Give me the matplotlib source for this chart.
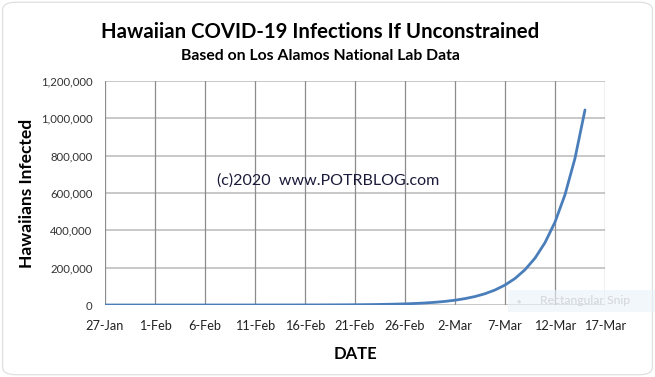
import numpy as np
import matplotlib.pyplot as plt
from matplotlib.patches import FancyBboxPatch, Rectangle

# Datos: infectados estimados por dia desde el 27-Jan
dias = np.arange(0, 49)
infectados = [1, 2, 2, 3, 4, 5, 7, 9, 12, 16,
              21, 28, 37, 49, 65, 86, 114, 152, 202, 268,
              357, 475, 630, 840, 1110, 1480, 1970, 2620, 3490, 4640,
              6170, 8200, 10900, 14500, 19300, 25700, 34200, 45400, 60400, 80400,
              107000, 142000, 189000, 251000, 334000, 444000, 591000, 786000, 1045000]

pos_fechas = np.arange(0, 51, 5)
etiquetas_fechas = ['27-Jan', '1-Feb', '6-Feb', '11-Feb', '16-Feb', '21-Feb',
                    '26-Feb', '2-Mar', '7-Mar', '12-Mar', '17-Mar']
valores_y = np.arange(0, 1200001, 200000)

plt.rcParams['font.family'] = ['Lato', 'DejaVu Sans']

fig = plt.figure(figsize=(6.55, 3.77), dpi=100)
fig.patch.set_facecolor('white')

# marco redondeado
marco = FancyBboxPatch((0.004, 0.006), 0.992, 0.988, boxstyle="round,pad=0,rounding_size=0.02",
                       transform=fig.transFigure, fill=False, edgecolor='#dcdcdc', linewidth=0.8)
fig.patches.append(marco)

ax = fig.add_axes([105 / 655, 1 - 305 / 377, 500 / 655, 224 / 377])
ax.plot(dias, infectados, color='#4a7ebb', linewidth=2.0, zorder=3, solid_capstyle='round')

ax.set_xlim(0, 50)
ax.set_ylim(0, 1200000)
ax.set_xticks(pos_fechas)
ax.set_xticklabels(etiquetas_fechas)
ax.set_yticks(valores_y)
ax.set_yticklabels(['0' if v == 0 else f'{v:,}' for v in valores_y])
ax.tick_params(axis='x', length=0, labelsize=9.2, colors='#222222', pad=11)
ax.tick_params(axis='y', length=0, labelsize=8.2, colors='#333333', pad=9)

for x in pos_fechas:
    ax.axvline(x, color='#8c8c8c', linewidth=0.9, zorder=1)
for y in valores_y:
    ax.axhline(y, color='#c4c4c4', linewidth=1.3, zorder=0)
for s in ax.spines.values():
    s.set_visible(False)

ax.set_xlabel('DATE', fontsize=12, fontweight='bold', labelpad=10)
ax.set_ylabel('Hawaiians Infected', fontsize=12.5, fontweight='bold', labelpad=4)

fig.text(320 / 655, 1 - 32 / 377, 'Hawaiian COVID-19 Infections If Unconstrained',
         ha='center', va='center', fontsize=14.7, fontweight='bold')
fig.text(320 / 655, 1 - 56 / 377, 'Based on Los Alamos National Lab Data',
         ha='center', va='center', fontsize=11.3, fontweight='bold')
fig.text(217 / 655, 1 - 181 / 377, '(c)2020  www.POTRBLOG.com',
         ha='left', va='center', fontsize=11.5, color='#1a1a3a')

# recuadro tenue de "Rectangular Snip"
fig.patches.append(Rectangle((508 / 655, 1 - 312 / 377), 147 / 655, 22 / 377,
                             transform=fig.transFigure, facecolor='#eaf2fb', alpha=0.6,
                             edgecolor='none', zorder=5))
fig.text(540 / 655, 1 - 301 / 377, 'Rectangular Snip', ha='left', va='center',
         fontsize=8.8, color='#d2d6da', zorder=6)
fig.text(519 / 655, 1 - 301 / 377, '\u25cf', ha='center', va='center',
         fontsize=5, color='#d8dde2', zorder=6)

fig.savefig('out.png', dpi=100)
